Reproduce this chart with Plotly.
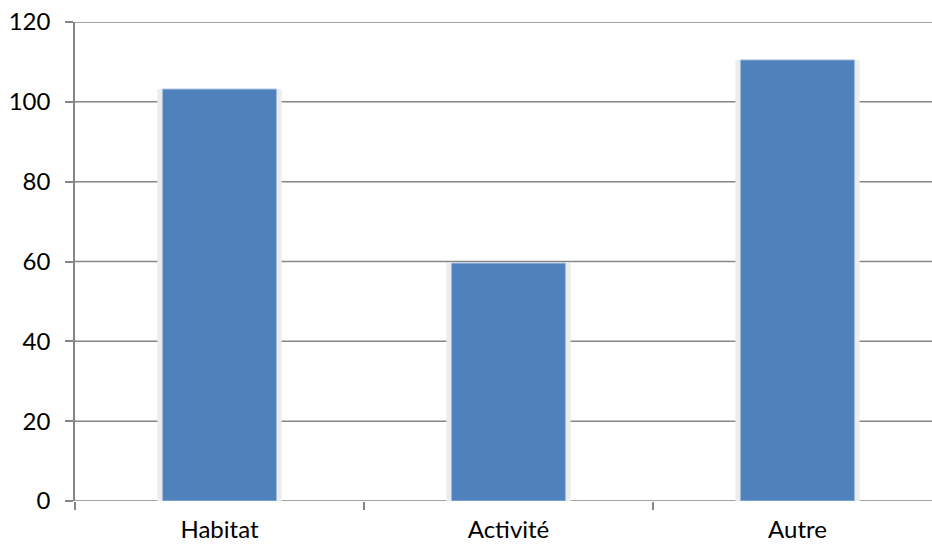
import plotly.graph_objects as go

categories = ["Habitat", "Activité", "Autre"]
values = [103.2, 59.6, 110.5]
y_ticks = [0, 20, 40, 60, 80, 100, 120]

bar_color = "#4F81BD"
grid_color = "#868686"
font_family = "Lato, 'Open Sans', sans-serif"

fig = go.Figure()

# soft halo behind each bar
fig.add_trace(go.Bar(
    x=categories, y=values, width=0.43,
    marker=dict(color="rgba(236,236,236,1)", line=dict(width=0)),
    hoverinfo="skip", showlegend=False,
))
fig.add_trace(go.Bar(
    x=categories, y=values, width=0.395,
    marker=dict(color=bar_color, line=dict(color="#A8C0E0", width=1)),
    showlegend=False,
))

# horizontal gridlines (and baseline) running out to the right edge
for v in y_ticks:
    fig.add_shape(
        type="line", xref="paper", yref="y",
        x0=0, x1=1.03, y0=v, y1=v,
        line=dict(color=grid_color, width=1.5),
        layer="below",
    )

fig.update_layout(
    width=932, height=547,
    margin=dict(l=75, r=0, t=22, b=46, pad=0),
    paper_bgcolor="white", plot_bgcolor="white",
    barmode="overlay", showlegend=False,
    font=dict(family=font_family, size=24, color="black"),
    xaxis=dict(
        range=[-0.5, 2.5 - 10 / 289],
        tickson="boundaries",
        ticks="outside", ticklen=8, tickcolor=grid_color, tickwidth=1.5,
        showline=False,
        showgrid=False, zeroline=False,
        ticklabelstandoff=12,
        automargin=False,
    ),
    yaxis=dict(
        range=[0, 120],
        tickvals=y_ticks,
        ticks="outside", ticklen=8, tickcolor=grid_color, tickwidth=1.5,
        showline=True, linecolor=grid_color, linewidth=1.5,
        showgrid=False,
        zeroline=False,
        ticklabelstandoff=10,
        automargin=False,
    ),
)

# keep the page free of scrollbars so the figure fills the window
page_js = (
    "document.body.style.margin='0';"
    "document.body.style.overflow='hidden';"
    "document.documentElement.style.overflow='hidden';"
)
fig.write_html("out.html", config={"displayModeBar": False}, post_script=page_js)
